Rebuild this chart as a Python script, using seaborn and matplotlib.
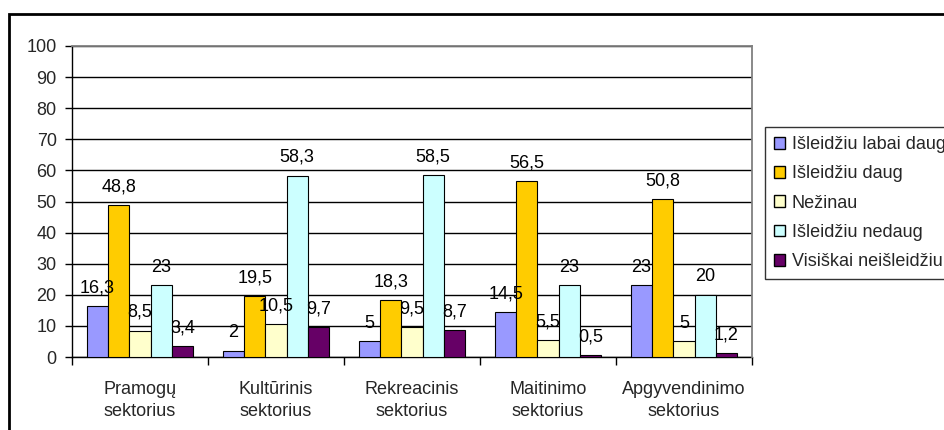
import matplotlib
matplotlib.use("Agg")
import matplotlib.pyplot as plt
from matplotlib.patches import Rectangle
import seaborn as sns
import pandas as pd

sectors = ["Pramogų\nsektorius", "Kultūrinis\nsektorius", "Rekreacinis\nsektorius",
           "Maitinimo\nsektorius", "Apgyvendinimo\nsektorius"]
answers = ["Išleidžiu labai daug", "Išleidžiu daug", "Nežinau",
           "Išleidžiu nedaug", "Visiškai neišleidžiu"]
labai_daug = [16.3, 2, 5, 14.5, 23]
daug = [48.8, 19.5, 18.3, 56.5, 50.8]
nezinau = [8.5, 10.5, 9.5, 5.5, 5]
nedaug = [23, 58.3, 58.5, 23, 20]
neisleidziu = [3.4, 9.7, 8.7, 0.5, 1.2]
colors = ["#9999FF", "#FFCC00", "#FFFFCC", "#CCFFFF", "#660066"]
yticks = list(range(0, 101, 10))

series = [labai_daug, daug, nezinau, nedaug, neisleidziu]
rows = []
for ans, vals in zip(answers, series):
    for sec, v in zip(sectors, vals):
        rows.append({"sektorius": sec, "atsakymas": ans, "procentai": v})
df = pd.DataFrame(rows)

sns.set_theme(style="white")
plt.rcParams["font.family"] = ["Liberation Sans", "DejaVu Sans"]

fig = plt.figure(figsize=(9.44, 4.30), dpi=100)
ax = fig.add_axes([72 / 944, 1 - 357 / 430, 680 / 944, 311 / 430])

sns.barplot(data=df, x="sektorius", y="procentai", hue="atsakymas",
            order=sectors, hue_order=answers, palette=colors, saturation=1,
            width=0.78, gap=0, edgecolor="black", linewidth=0.8,
            errorbar=None, legend=False, ax=ax, zorder=3)

def fmt(v):
    return f"{v:g}".replace(".", ",")

for cont, vals in zip(ax.containers, series):
    ax.bar_label(cont, labels=[fmt(v) for v in vals], padding=7,
                 fontsize=13, color="black")

ax.set_ylim(0, 100)
ax.set_xlim(-0.5, len(sectors) - 0.5)
ax.set_yticks(yticks)
ax.set_yticklabels([str(t) for t in yticks], fontsize=13)
ax.set_xticks([i - 0.5 for i in range(len(sectors) + 1)])
ax.set_xticklabels([])
ax.set_xticks(range(len(sectors)), minor=True)
ax.set_xticklabels(sectors, minor=True, fontsize=13, linespacing=1.4)
ax.tick_params(axis="x", which="minor", length=0, pad=17)
ax.tick_params(axis="x", which="major", direction="out", length=6, width=1,
               color="black", bottom=True)
ax.tick_params(axis="y", direction="out", length=5, width=1, color="black",
               left=True, pad=6)
ax.set_xlabel("")
ax.set_ylabel("")

ax.set_axisbelow(True)
ax.yaxis.grid(True, color="black", linewidth=1)
for side in ("left", "bottom"):
    ax.spines[side].set_color("black")
    ax.spines[side].set_linewidth(1)
for side in ("top", "right"):
    ax.spines[side].set_color("#808080")
    ax.spines[side].set_linewidth(1.3)
    ax.spines[side].set_zorder(4)

handles = [Rectangle((0, 0), 1, 1, facecolor=c, edgecolor="black", linewidth=1)
           for c in colors]
leg = fig.legend(handles, answers, loc="upper left",
                 bbox_to_anchor=(765 / 944, 1 - 127 / 430),
                 bbox_transform=fig.transFigure, fontsize=13,
                 frameon=True, fancybox=False, edgecolor="black",
                 handlelength=0.62, handleheight=0.62, handletextpad=0.35,
                 labelspacing=0.68, borderpad=0.5, borderaxespad=0)
leg.get_frame().set_linewidth(1)

# chart frame
fig.add_artist(Rectangle((9 / 944, -0.2), 1.2, 0.2 + 1 - 14 / 430,
                         transform=fig.transFigure, fill=False,
                         edgecolor="black", linewidth=2))

fig.savefig("out.png", dpi=100, facecolor="white")
